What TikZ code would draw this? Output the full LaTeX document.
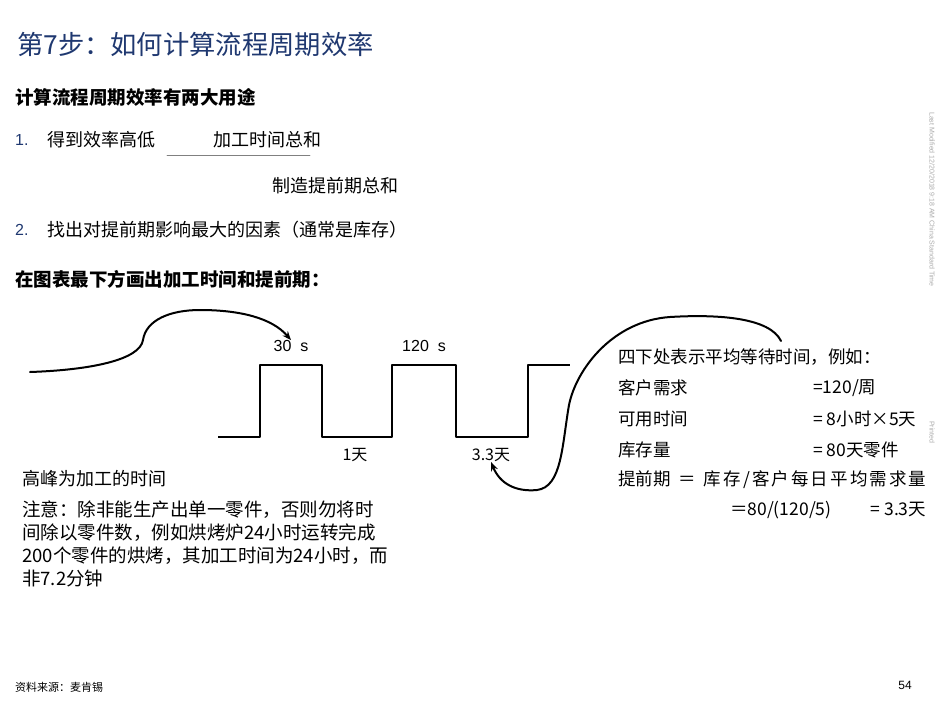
\documentclass[tikz,border=0pt]{standalone}
\usepackage{fontspec}
\setmainfont{Noto Sans CJK SC}
\newfontfamily\latin{Liberation Sans}
\usetikzlibrary{arrows.meta}

\definecolor{titleblue}{RGB}{31,56,112}
\definecolor{stampgray}{RGB}{170,170,170}

\tikzset{
  body/.style={anchor=west, inner sep=0pt, font=\fontsize{18}{20}\selectfont},
  side/.style={body, font=\fontsize{17.5}{20}\selectfont},
  head/.style={body, font=\fontsize{18.5}{20}\selectfont\bfseries},
  num/.style={body, text=titleblue, font=\fontsize{16}{20}\selectfont\latin},
  lbl/.style={inner sep=0pt, font=\fontsize{16}{20}\selectfont},
  stamp/.style={inner sep=0pt, text=stampgray, font=\fontsize{7}{8}\selectfont\latin, rotate=-90, anchor=west},
  curve/.style={line width=2pt, -{Stealth[length=9pt,width=7pt]}},
}

\begin{document}
\begin{tikzpicture}[x=1pt, y=-1pt, line cap=round, line join=round]
  \useasboundingbox (0,0) rectangle (941,706);

  % titel en kop
  \node[body, text=titleblue, font=\fontsize{26.3}{28}\selectfont] (title) at (17,44) {第7步：如何计算流程周期效率};
  \node[head] (uses) at (15,97) {计算流程周期效率有两大用途};

  % punt 1, met breuk
  \node[num] (n1) at (15,140) {1.};
  \node[body] (p1) at (47,140) {得到效率高低};
  \node[body] (teller) at (213,140) {加工时间总和};
  \node[body] (noemer) at (272,186) {制造提前期总和};
  \coordinate (bar l) at (167,155);
  \coordinate (bar r) at (310,155);
  \draw[line width=0.8pt, gray] (bar l) -- (bar r);

  % punt 2
  \node[num] (n2) at (15,230) {2.};
  \node[body] (p2) at (47,230) {找出对提前期影响最大的因素（通常是库存）};
  \node[head] (draw) at (15,279) {在图表最下方画出加工时间和提前期：};

  % golflijn
  \draw[line width=2.6pt, line cap=butt]
    (218,437) -- (260,437) -- (260,365) -- (322,365) -- (322,437)
    -- (392,437) -- (392,365) -- (456,365) -- (456,437)
    -- (528,437) -- (528,365) -- (570,365);
  \node[lbl, font=\fontsize{16}{20}\selectfont\latin] (t1) at (291,346) {30\ \ s};
  \node[lbl, font=\fontsize{16}{20}\selectfont\latin] (t2) at (424,346) {120\ \ s};
  \node[lbl] (w1) at (355,455) {1天};
  \node[lbl] (w2) at (491,455) {3.3天};

  % pijl naar de piek
  \coordinate (left start) at (30,372);
  \draw[curve] (left start) .. controls (90,370) and (140,360) .. (143,340)
    .. controls (146,320) and (170,310) .. (200,310)
    .. controls (240,310) and (272,318) .. (t1.north);

  % pijl naar het dal
  \coordinate (right start) at (781,341);
  \draw[curve] (right start) .. controls (770,318) and (720,314) .. (670,317)
    .. controls (612,321) and (576,370) .. (569,405)
    .. controls (562,445) and (562,487) .. (537,490)
    .. controls (516,492) and (500,484) .. (w2.south);

  % toelichting links
  \node[body] (peak) at (22,479) {高峰为加工的时间};
  \node[body, align=left, anchor=north west, font=\fontsize{18.5}{22.8}\selectfont] (note) at (22,501)
    {注意：除非能生产出单一零件，否则勿将时\\间除以零件数，例如烘烤炉24小时运转完成\\200个零件的烘烤，其加工时间为24小时，而\\非7.2分钟};

  % toelichting rechts
  \node[side] (r1) at (618,357) {四下处表示平均等待时间，例如：};
  \node[side] (r2) at (618,388) {客户需求};
  \node[side] (r2b) at (813,388) {=120/周};
  \node[side] (r3) at (618,419) {可用时间};
  \node[side] (r3b) at (813,419) {=\ 8小时×5天};
  \node[side] (r4) at (618,450) {库存量};
  \node[side] (r4b) at (813,450) {=\ 80天零件};
  \node[side] (r5) at (618,480) {提前期\ \ ＝\ \ {\addfontfeature{LetterSpace=12}库存/客户每日平均需求量}};
  \node[side] (r6) at (730,510) {＝80/(120/5)\ \ \ \ \ \ \ \ \ \ =\ 3.3天};

  % voettekst
  \node[inner sep=0pt, anchor=west, font=\fontsize{11}{12}\selectfont] (src) at (15,687) {资料来源：麦肯锡};
  \node[inner sep=0pt, font=\fontsize{12}{14}\selectfont\latin] (page) at (905,685) {54};
  \node[stamp] (mod) at (932,112) {Last Modified 12/20/2018 9:18 AM China Standard Time};
  \node[stamp] (prt) at (932,421) {Printed};
\end{tikzpicture}
\end{document}
